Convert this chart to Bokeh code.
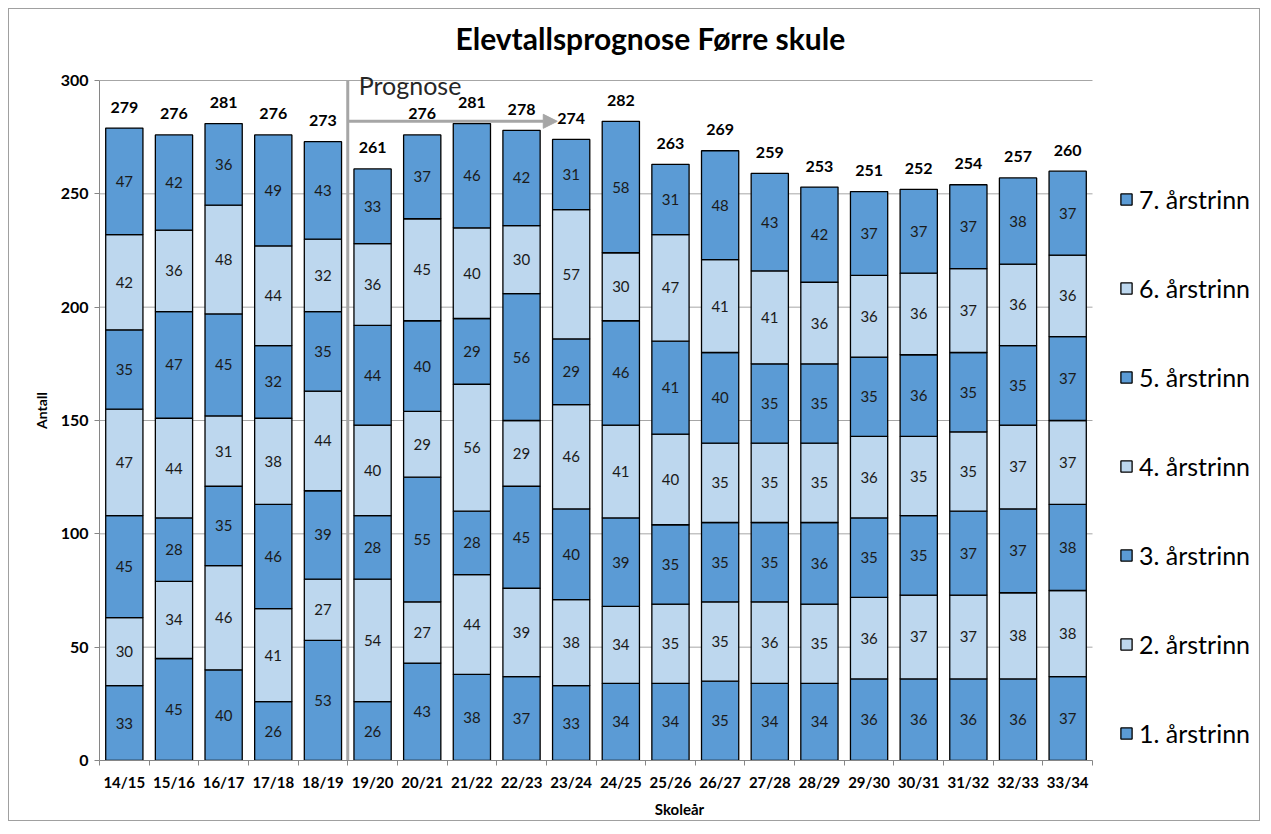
from bokeh.plotting import figure
from bokeh.models import (ColumnDataSource, Range1d, FixedTicker, Arrow,
                          NormalHead, Label, Legend, LegendItem)
from bokeh.core.properties import value
from bokeh.embed import file_html
from bokeh.resources import INLINE

# ---------------- data ----------------
years = ["14/15", "15/16", "16/17", "17/18", "18/19", "19/20", "20/21", "21/22",
         "22/23", "23/24", "24/25", "25/26", "26/27", "27/28", "28/29", "29/30",
         "30/31", "31/32", "32/33", "33/34"]
grade_labels = ["1. årstrinn", "2. årstrinn", "3. årstrinn", "4. årstrinn",
                "5. årstrinn", "6. årstrinn", "7. årstrinn"]
g1 = [33, 45, 40, 26, 53, 26, 43, 38, 37, 33, 34, 34, 35, 34, 34, 36, 36, 36, 36, 37]
g2 = [30, 34, 46, 41, 27, 54, 27, 44, 39, 38, 34, 35, 35, 36, 35, 36, 37, 37, 38, 38]
g3 = [45, 28, 35, 46, 39, 28, 55, 28, 45, 40, 39, 35, 35, 35, 36, 35, 35, 37, 37, 38]
g4 = [47, 44, 31, 38, 44, 40, 29, 56, 29, 46, 41, 40, 35, 35, 35, 36, 35, 35, 37, 37]
g5 = [35, 47, 45, 32, 35, 44, 40, 29, 56, 29, 46, 41, 40, 35, 35, 35, 36, 35, 35, 37]
g6 = [42, 36, 48, 44, 32, 36, 45, 40, 30, 57, 30, 47, 41, 41, 36, 36, 36, 37, 36, 36]
g7 = [47, 42, 36, 49, 43, 33, 37, 46, 42, 31, 58, 31, 48, 43, 42, 37, 37, 37, 38, 37]
y_ticks = [0, 50, 100, 150, 200, 250, 300]
prognosis_start = "19/20"
title_text = "Elevtallsprognose Førre skule"

# ---------------- build ----------------
series = [g1, g2, g3, g4, g5, g6, g7]
keys = [f"g{i + 1}" for i in range(len(series))]
x = list(range(len(years)))
DARK, LIGHT = "#5B9BD5", "#BDD7EE"
colors = [DARK if i % 2 == 0 else LIGHT for i in range(len(series))]
FONT = "Lato"

data = dict(x=x)
for k, s in zip(keys, series):
    data[k] = s
src = ColumnDataSource(data)

PLOT_H = 680                        # pixel height of the 0..300 value area
TOP_PAD = 20                        # free pixels above 300 (for the "Prognose" text)
FRAME_W, FRAME_H = 1160, PLOT_H + TOP_PAD
CAT_PX = 993 / len(years)           # pixel width of one category slot
x_lo = -0.5
x_hi_data = len(years) - 0.5
x_hi_view = x_lo + FRAME_W / CAT_PX  # extra room on the right for the legend
y_lo, y_hi = y_ticks[0], y_ticks[-1]
y_hi_view = y_hi * FRAME_H / PLOT_H

p = figure(frame_width=FRAME_W, frame_height=FRAME_H,
           x_range=Range1d(x_lo, x_hi_view),
           y_range=Range1d(y_lo, y_hi_view),
           output_backend="svg", toolbar_location=None,
           min_border_left=90, min_border_right=0,
           min_border_top=71 - TOP_PAD, min_border_bottom=59)
p.styles = {"border": "1px solid #A0A0A0", "margin": "8px"}
p.outline_line_color = None
p.background_fill_color = "white"
p.border_fill_color = "white"

# title
p.title.text = title_text
p.title.align = "left"
p.title.offset = 356
p.title.standoff = 9
p.title.text_font = FONT
p.title.text_font_size = "30px"
p.title.text_font_style = "bold"
p.title.text_color = "black"

# horizontal grid lines limited to the category area
p.ygrid.visible = False
p.xgrid.visible = False
p.segment(x0=[x_lo] * len(y_ticks), x1=[x_hi_data] * len(y_ticks),
          y0=y_ticks, y1=y_ticks, line_color="#A6A6A6", line_width=1,
          level="underlay")

renderers = p.vbar_stack(keys, x="x", width=0.75, source=src,
                         fill_color=colors, line_color="black", line_width=1.3)

# segment labels
lx, ly, lt = [], [], []
bottoms = [0] * len(years)
for s in series:
    for i, v in enumerate(s):
        lx.append(x[i])
        ly.append(bottoms[i] + v / 2)
        lt.append(str(v))
        bottoms[i] += v
p.text(x=lx, y=ly, text=lt, text_align="center", text_baseline="middle",
       text_font=value(FONT), text_font_size="15px", text_color="#1A1A1A")

# totals
totals = [sum(col) for col in zip(*series)]
p.text(x=x, y=totals, text=[str(t) for t in totals], y_offset=-21,
       text_align="center", text_baseline="middle",
       text_font=value(FONT), text_font_size="16px", text_font_style="bold",
       text_color="black")

# prognosis marker
prog_x = years.index(prognosis_start) - 0.5
p.segment(x0=[prog_x], x1=[prog_x], y0=[y_lo], y1=[y_hi],
          line_color="#A6A6A6", line_width=3)
p.add_layout(Arrow(x_start=prog_x, y_start=282, x_end=8.72, y_end=282,
                   line_color="#A6A6A6", line_width=3,
                   end=NormalHead(size=14, fill_color="#A6A6A6",
                                  line_color="#A6A6A6")))
p.add_layout(Label(x=prog_x, y=298, x_offset=11, text="Prognose",
                   text_font=FONT, text_font_size="25px",
                   text_color="#262626", text_baseline="middle",
                   text_align="left"))

# axes
AX = "#868686"
p.yaxis.bounds = (y_lo, y_hi)
p.yaxis.ticker = y_ticks
p.yaxis.axis_label = "Antall"
p.yaxis.axis_label_text_font = FONT
p.yaxis.axis_label_text_font_size = "14px"
p.yaxis.axis_label_text_font_style = "bold"
p.yaxis.axis_label_text_color = "black"
p.yaxis.axis_label_standoff = 8
p.yaxis.major_label_text_font = FONT
p.yaxis.major_label_text_font_size = "16px"
p.yaxis.major_label_text_font_style = "bold"
p.yaxis.major_label_text_color = "black"
p.yaxis.major_label_standoff = 6
p.yaxis.axis_line_color = AX
p.yaxis.major_tick_line_color = AX
p.yaxis.major_tick_out = 5
p.yaxis.major_tick_in = 0
p.yaxis.minor_tick_line_color = None

p.xaxis.bounds = (x_lo, x_hi_data)
p.xaxis.ticker = FixedTicker(ticks=x, minor_ticks=[i - 0.5 for i in range(len(years) + 1)])
p.xaxis.major_label_overrides = {i: yr for i, yr in zip(x, years)}
p.xaxis.axis_label = "Skoleår"
p.xaxis.axis_label_text_font = FONT
p.xaxis.axis_label_text_font_size = "15px"
p.xaxis.axis_label_text_font_style = "bold"
p.xaxis.axis_label_text_color = "black"
p.xaxis.axis_label_standoff = 6
p.xaxis.major_label_text_font = FONT
p.xaxis.major_label_text_font_size = "15px"
p.xaxis.major_label_text_font_style = "bold"
p.xaxis.major_label_text_color = "black"
p.xaxis.major_label_standoff = 6
p.xaxis.axis_line_color = AX
p.xaxis.major_tick_line_color = None
p.xaxis.minor_tick_line_color = AX
p.xaxis.minor_tick_out = 5
p.xaxis.minor_tick_in = 0

# legend (top = highest grade), placed right of the bars
items = [LegendItem(label=lab, renderers=[r])
         for lab, r in zip(grade_labels, renderers)][::-1]
legend = Legend(items=items, location=(1020, 12), orientation="vertical",
                label_text_font=FONT, label_text_font_size="25px",
                label_text_color="black", glyph_width=14, glyph_height=14,
                label_height=31, spacing=58, label_standoff=6,
                padding=0, margin=0, border_line_color=None,
                background_fill_alpha=0)
p.add_layout(legend)

open("out.html", "w").write(file_html(p, INLINE))
